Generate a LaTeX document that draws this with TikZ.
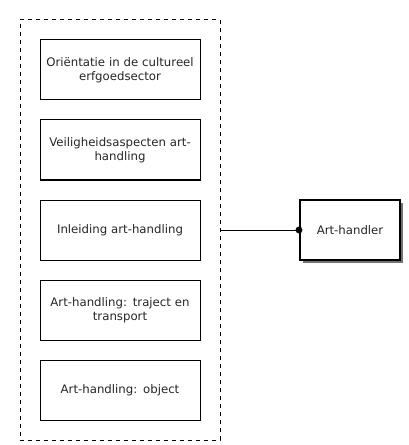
\documentclass[tikz,border=0pt]{standalone}
\usepackage{fontspec}
\setmainfont{DejaVu Sans}
\begin{document}
\begin{tikzpicture}[x=0.75pt,y=-0.75pt,
  course/.style={draw=black,line width=0.75pt,fill=white,minimum width=120pt,minimum height=45pt,align=center,text width=118pt,font=\fontsize{8.8}{10.5}\selectfont,inner sep=0pt,text=black!85},
  role/.style={draw=black,line width=1.5pt,fill=white,minimum width=75pt,minimum height=45pt,align=center,font=\fontsize{8.8}{10.5}\selectfont,inner sep=0pt,text=black!85},
  conn/.style={draw=black,line width=0.75pt}]
\useasboundingbox (0,0) rectangle (408,445);
\node[draw=black,dashed,line width=0.75pt,minimum width=150pt,minimum height=315pt,inner sep=0pt] (grp) at (120,230) {};
\node[course] (c1) at (120,70) {Oriëntatie in de cultureel\\erfgoedsector};
\node[course] (c2) at (120,150) {Veiligheidsaspecten art-\\handling};
\node[course] (c3) at (120,230) {Inleiding art-handling};
\node[course] (c4) at (120,310) {Art-handling: traject en\\transport};
\node[course] (c5) at (120,390) {Art-handling: object};
\fill[black!55] (303,203) rectangle (403,263);
\node[role] (r) at (350,230) {Art-handler};
\draw[conn] (grp.east) -- (r.west);
\fill (r.west) circle (2.6pt);
\end{tikzpicture}
\end{document}
